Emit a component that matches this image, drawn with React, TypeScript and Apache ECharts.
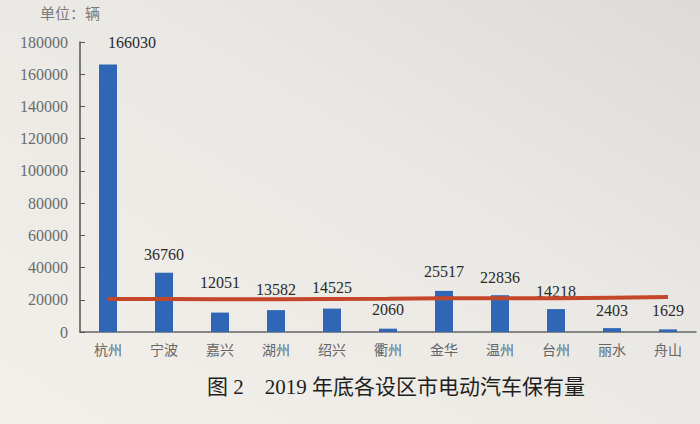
import React, { useEffect, useRef } from "react";
import * as echarts from "echarts";

const categories = ["杭州", "宁波", "嘉兴", "湖州", "绍兴", "衢州", "金华", "温州", "台州", "丽水", "舟山"];
const vehicles = [166030, 36760, 12051, 13582, 14525, 2060, 25517, 22836, 14218, 2403, 1629];
const referenceLine = [20500, 20500, 20400, 20400, 20500, 20600, 20900, 21000, 20900, 21300, 21700];
const yTicks = [0, 20000, 40000, 60000, 80000, 100000, 120000, 140000, 160000, 180000];

// label style tweaks (distance above the bar) – styling only
const labelLift = [14, 10, 22, 13, 13, 11, 11, 10, 10, 10, 11];

export default function App() {
  const ref = useRef<HTMLDivElement>(null);
  useEffect(() => {
    const chart = echarts.init(ref.current!, undefined, { renderer: "svg" });
    const serif = "'Liberation Serif', 'Noto Sans CJK SC', serif";
    chart.setOption({
      animation: false,
      backgroundColor: {
        type: "linear",
        x: 0,
        y: 1,
        x2: 1,
        y2: 0,
        colorStops: [
          { offset: 0, color: "#f3f0ea" },
          { offset: 0.6, color: "#eae8e4" },
          { offset: 1, color: "#dcdbd9" },
        ],
      },
      title: {
        text: "图 2    2019 年底各设区市电动汽车保有量",
        left: 391,
        textAlign: "center",
        top: 371,
        textStyle: { fontFamily: serif, fontSize: 21, fontWeight: "normal", color: "#1e1e1e" },
      },
      graphic: [
        {
          type: "text",
          left: 40,
          top: 5,
          style: { text: "单位：辆", fontFamily: "'Noto Sans CJK SC', sans-serif", fontSize: 15, fill: "#7a7a7a" },
        },
      ],
      grid: { left: 80, right: 4, top: 42, bottom: 92, containLabel: false },
      xAxis: {
        type: "category",
        data: categories,
        axisLine: { lineStyle: { color: "#666", width: 1.5 } },
        axisTick: { show: false },
        axisLabel: { color: "#666", fontFamily: "'Noto Sans CJK SC', sans-serif", fontSize: 14, margin: 10 },
      },
      yAxis: {
        type: "value",
        min: 0,
        max: yTicks[yTicks.length - 1],
        interval: yTicks[1] - yTicks[0],
        splitLine: { show: false },
        axisLine: { show: true, lineStyle: { color: "#555", width: 1.5 } },
        axisTick: { show: true, inside: true, length: 5, lineStyle: { color: "#555" } },
        axisLabel: {
          color: "#6a6a6a",
          fontFamily: serif,
          fontSize: 16,
          margin: 12,
          formatter: (v: number) => String(v),
        },
      },
      series: [
        {
          type: "bar",
          barWidth: 18,
          z: 2,
          itemStyle: { color: "#2f66b5" },
          data: vehicles.map((v, i) => ({
            value: v,
            label: { distance: labelLift[i], offset: i === 0 ? [24, 0] : [0, 0] },
          })),
          label: {
            show: true,
            position: "top",
            color: "#2a2a2a",
            fontFamily: serif,
            fontSize: 16,
            formatter: (p: any) => String(p.value),
          },
        },
        {
          type: "line",
          data: referenceLine,
          symbol: "none",
          z: 3,
          lineStyle: { color: "#c4472a", width: 4 },
          silent: true,
        },
      ],
    });
    return () => chart.dispose();
  }, []);
  return <div ref={ref} style={{ position: "absolute", left: 0, top: 0, width: 700, height: 424 }} />;
}
